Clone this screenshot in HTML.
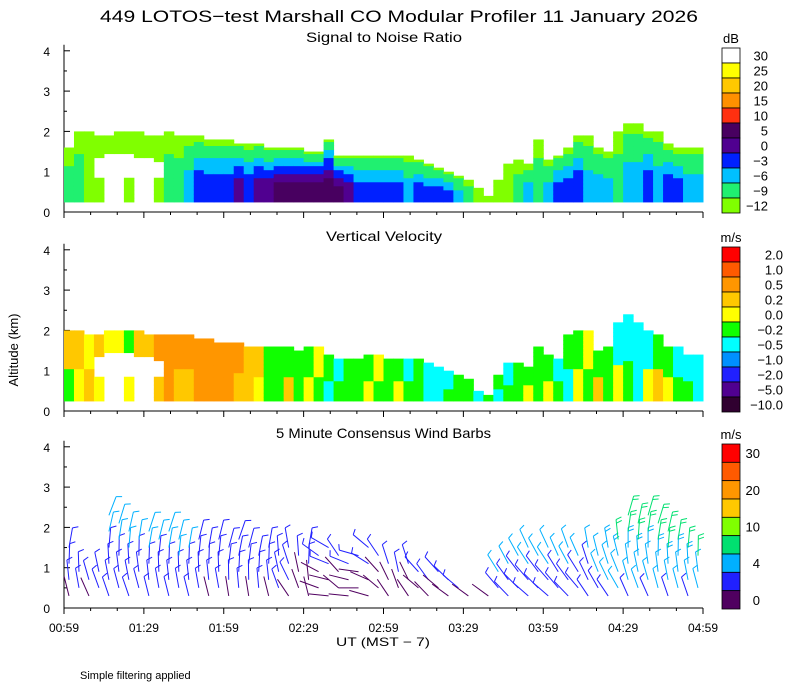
<!DOCTYPE html>
<html><head><meta charset="utf-8"><style>
body{margin:0;background:#fff;}
svg{display:block;font-family:"Liberation Sans",sans-serif;}
</style></head><body>
<svg id="c" width="800" height="700" viewBox="0 0 800 700" xmlns="http://www.w3.org/2000/svg">
<text x="100" y="22" font-size="17" textLength="598" lengthAdjust="spacingAndGlyphs">449 LOTOS−test Marshall CO Modular Profiler 11 January 2026</text>
<text x="306" y="42" font-size="14" textLength="156" lengthAdjust="spacingAndGlyphs">Signal to Noise Ratio</text>
<text x="326" y="241" font-size="14" textLength="116" lengthAdjust="spacingAndGlyphs">Vertical Velocity</text>
<text x="276" y="438" font-size="14" textLength="215" lengthAdjust="spacingAndGlyphs">5 Minute Consensus Wind Barbs</text>
<text transform="translate(18,350) rotate(-90)" text-anchor="middle" font-size="13">Altitude (km)</text>
<text x="336" y="646" font-size="12" textLength="94" lengthAdjust="spacingAndGlyphs">UT  (MST − 7)</text>
<text x="80" y="679" font-size="11">Simple filtering applied</text>
<g id="g"></g>
</svg>
<script>
const timeLabels=["00:59","01:29","01:59","02:29","02:59","03:29","03:59","04:29","04:59"];
const snrTop=[1.6,2.0,2.0,1.9,1.9,2.0,2.0,2.0,1.9,1.9,2.0,1.9,1.9,1.9,1.8,1.8,1.8,1.7,1.7,1.7,1.6,1.6,1.6,1.6,1.5,1.5,1.8,1.4,1.4,1.4,1.4,1.4,1.4,1.4,1.4,1.3,1.2,1.1,1.0,0.9,0.8,0.6,0.4,0.8,1.2,1.3,1.2,1.8,1.3,1.4,1.6,1.9,1.9,1.6,1.5,2.0,2.2,2.2,2.0,2.0,1.7,1.6,1.6,1.6];
const snrCore=[1,1,0,0,0,0,0,0,0,0,1,1,2,3,3,3,3,4,3,4,4,5,5,5,5,5,5,5,4,3,3,3,3,3,2,3,3,3,3,2,1,0,0,0,0,1,2,1,2,3,3,3,2,2,2,1,2,2,3,2,3,3,2,2];
const holeTop=[0,0,0,1.3,1.4,1.4,1.4,1.3,1.3,1.2,0,0,0,0,0,0,0,0,0,0,0,0,0,0,0,0,0,0,0,0,0,0,0,0,0,0,0,0,0,0,0,0,0,0,0,0,0,0,0,0,0,0,0,0,0,0,0,0,0,0,0,0,0,0];
const vvTop=[2.0,2.0,1.9,1.9,2.0,2.0,2.0,2.0,1.9,1.9,1.9,1.9,1.9,1.8,1.8,1.7,1.7,1.7,1.6,1.6,1.6,1.6,1.6,1.5,1.6,1.6,1.4,1.3,1.3,1.3,1.4,1.4,1.3,1.3,1.3,1.3,1.2,1.1,1.0,0.9,0.8,0.5,0.4,0.9,1.2,1.2,1.1,1.6,1.4,1.3,1.9,2.0,2.0,1.5,1.6,2.2,2.4,2.2,2.0,1.9,1.6,1.6,1.4,1.4];
const vvLow=[5,4,3,4,5,3,4,5,3,3,2,3,3,2,2,2,2,3,3,4,5,5,3,5,4,5,6,5,5,5,4,5,5,4,5,5,6,6,5,5,5,5,4,6,5,5,4,5,4,5,6,4,5,3,5,4,5,6,4,3,4,5,5,6];
const vvHigh=[3,3,4,3,4,4,5,3,3,2,2,2,2,2,2,2,2,2,3,3,5,5,5,5,5,4,5,6,5,5,5,4,5,5,6,5,6,6,6,5,5,6,5,5,6,5,5,5,5,6,5,5,4,5,5,6,6,6,6,5,5,6,6,6];
const windTop=[1.6,1.2,1.0,1.0,2.3,2.2,2.0,2.0,1.9,2.0,1.9,1.9,1.8,1.8,1.8,1.8,1.8,1.8,1.7,1.7,1.6,1.6,1.6,1.6,1.6,1.5,1.5,1.4,1.4,1.4,1.5,1.5,1.3,1.2,1.2,1.1,1.0,0.9,0.8,0.7,0.6,0,0.5,1.2,1.4,1.4,1.5,1.6,1.5,1.4,1.5,1.6,1.7,1.5,1.6,2.0,2.5,2.4,2.3,2.1,2.2,2.0,1.8,1.6];
const windLow=[1,1,1,1,2,2,2,2,2,2,2,2,2,1.5,1.5,1.5,1.5,1.5,1.5,1.5,1.5,1.5,1.5,1,1,1,1,1,1,1,1,1,1,1,1,1,1,1,1,1,1,1,1,2,2,2,2,2,2,2,2,2,2,2,3,3,3,3,3,3,3,3,3,3];
const windHigh=[4,4,4,4,5,5,5,5,5,5,5,5,5,4,4,4,4,4,4,3.5,3.5,3.5,3.5,2.5,2.5,2.5,2.5,2.5,2.5,2.5,2.5,2.5,2.5,2.5,2.5,2.5,2.5,2.5,2.5,2.5,2.5,2.5,2.5,5,5,5,5,5,5,5,5,5,5,6,7,8,9,9,9,9,9,9,8,8];
const windDir=[340,340,330,330,335,335,335,335,340,340,340,340,340,340,340,340,345,345,345,345,340,330,320,330,340,280,270,300,270,260,280,300,320,330,320,300,310,300,300,300,300,300,300,310,310,305,305,305,305,310,310,310,320,320,320,320,330,330,330,335,335,335,335,335];
const snrColors=["#80ff00","#20f070","#00c0ff","#0020ff","#500090","#480060","#ff3010","#ff9000","#ffc800","#ffff00","#ffffff"];
const snrLabels=["30","25","20","15","10","5","0","−3","−6","−9","−12"];
const vvColors=["#ff0000","#ff5a00","#ff9600","#ffc800","#ffff00","#10ff00","#00ffff","#0090ff","#2020ff","#500090","#300030"];
const vvLabels=["2.0","1.0","0.5","0.2","0.0","−0.2","−0.5","−1.0","−2.0","−5.0","−10.0"];
const wColors=["#ff0000","#ff5a00","#ff9600","#ffc800","#80ff00","#00e070","#00b0ff","#2020ff","#500060"];
const wLabels=["30","20","10","4","0"];

const NS="http://www.w3.org/2000/svg",G=document.getElementById('g');
const X0=64,X1=703,KM=40.3,BASES=[212,411,608];
function mk(t,a,p){const e=document.createElementNS(NS,t);for(const k in a)e.setAttribute(k,a[k]);(p||G).appendChild(e);return e;}
const xCol=i=>X0+i*(X1-X0)/64;
const yKm=(p,h)=>BASES[p]-h*KM;

BASES.forEach((b,p)=>{
 const ax=mk('g',{});
 
 
 mk('line',{x1:X0,y1:b,x2:X1,y2:b,stroke:'#000'},ax);
 mk('line',{x1:X0,y1:b,x2:X0,y2:b-4.15*KM,stroke:'#000'},ax);
 for(let k=0;k<=8;k++){const h=k/2;const y=yKm(p,h);mk('line',{x1:X0,y1:y,x2:X0+(k%2?3:6),y2:y,stroke:'#000'},ax);
  if(k%2==0){const t=mk('text',{x:X0-14,y:y+5,'font-size':12,'text-anchor':'end'},ax);t.textContent=String(h);
   }}
 for(let m=0;m<=24;m++){const x=X0+m*(X1-X0)/24;mk('line',{x1:x,y1:b,x2:x,y2:b+(m%3?3:6),stroke:'#000'},ax);}
});
timeLabels.forEach((l,k)=>{const t=mk('text',{x:X0+k*(X1-X0)/8,y:632,'font-size':12,'text-anchor':'middle'});t.textContent=l;
 });

const cw=(X1-X0)/64;
const snrG=mk('g',{});
for(let i=0;i<64;i++){const top=snrTop[i];for(let h=0.25;h<top;h+=0.1){
 if(h<holeTop[i]&&!(i%3==0&&h<0.8))continue;
 const f=Math.min(1,(top-h)/(top*0.6));const lv=Math.round(snrCore[i]*f);
 const r=mk('rect',{x:xCol(i),y:yKm(0,Math.min(h+0.1,top)),width:cw+0.5,height:Math.min(0.1,top-h)*KM+0.5,fill:snrColors[lv]},snrG);
 }}
const vvG=mk('g',{});
for(let i=0;i<64;i++){const top=vvTop[i];for(let h=0.25;h<top;h+=0.1){
 if(h<holeTop[i]&&!(i%3==0&&h<0.8))continue;
 const lv=h<top*0.5?vvLow[i]:vvHigh[i];
 const r=mk('rect',{x:xCol(i),y:yKm(1,Math.min(h+0.1,top)),width:cw+0.5,height:Math.min(0.1,top-h)*KM+0.5,fill:vvColors[lv]},vvG);
 }}
function wCol(s){return s<2?8:s<4?7:s<7?6:s<10?5:s<15?4:3;}
const wg=mk('g',{});
for(let i=0;i<64;i++){const top=windTop[i];for(let h=0.3+(i%2)*0.2;h<=top;h+=0.4){
 const s=windLow[i]+(windHigh[i]-windLow[i])*(h/Math.max(top,0.1));const d=(windDir[i]+(h*20))*Math.PI/180;
 const x=xCol(i)+cw/2,y=yKm(2,h),L=20;const ex=x+Math.sin(d)*L,ey=y-Math.cos(d)*L;const c=wColors[wCol(s)];
 const b=mk('g',{stroke:c,'stroke-width':1},wg);
 mk('line',{x1:x,y1:y,x2:ex,y2:ey},b);
 const n=Math.round(s/4);for(let k=0;k<n;k++){const t=1-k*0.18;const px=x+Math.sin(d)*L*t,py=y-Math.cos(d)*L*t;
  const d2=d+Math.PI/2.6;mk('line',{x1:px,y1:py,x2:px+Math.sin(d2)*6,y2:py-Math.cos(d2)*6},b);}}}
function cbar(colors,labels,top,bot,unit,name,every,rx){
 const g=mk('g',{});
 const h=(bot-top)/colors.length;
 colors.forEach((c,k)=>{mk('rect',{x:722,y:top+k*h,width:18,height:h,fill:c,stroke:'#000','stroke-width':0.8},g);});
 labels.forEach((l,k)=>{const cy=top+(k*every+0.5)*h;const t=mk('text',{x:rx,y:cy+5,'font-size':13,'text-anchor':'end'},g);t.textContent=l;});
 const u=mk('text',{x:731,y:top-5,'font-size':13,'text-anchor':'middle'},g);u.textContent=unit;}
cbar(snrColors.slice().reverse(),snrLabels,48,213,'dB','snr-colorbar',1,768);
cbar(vvColors,vvLabels,247,412,'m/s','vv-colorbar',1,783);
cbar(wColors,wLabels,444,609,'m/s','wind-colorbar',2,760);
</script>
</body></html>
